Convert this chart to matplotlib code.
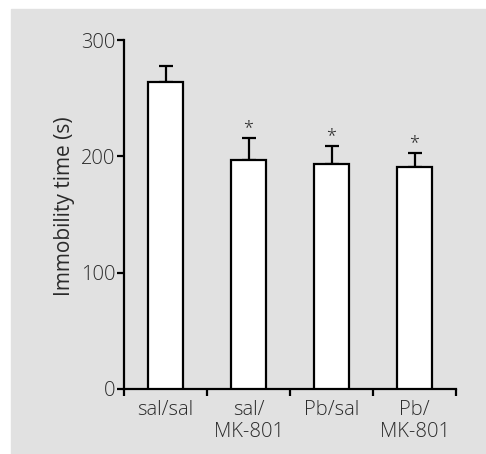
import numpy as np
import matplotlib
matplotlib.use("Agg")
from matplotlib import pyplot as plt
from matplotlib.patches import Rectangle

groups = ["sal/sal", "sal/\nMK-801", "Pb/sal", "Pb/\nMK-801"]
means = [264, 197, 193, 191]
sems = [14, 19, 16, 12]
signif = ["", "*", "*", "*"]

plt.rcParams['font.family'] = ['Open Sans', 'DejaVu Sans']
plt.rcParams['font.weight'] = 'light'
txt = '#2a2a2a'
fs = 14.5

fig = plt.figure(figsize=(4.86, 4.54), dpi=100)
fig.patch.set_facecolor('white')
# grey panel behind the plot
fig.patches.append(Rectangle((11/486, 0), 1 - 11/486, 1 - 9/454,
                             transform=fig.transFigure, color='#e1e1e1', zorder=-10))

ax = fig.add_axes([124/486, 1 - 389/454, (456 - 124)/486, (389 - 40)/454])
ax.set_facecolor('none')

x = np.arange(len(groups))
ax.bar(x, means, width=0.41, color='white', edgecolor='black', linewidth=1.6, zorder=3)
ax.errorbar(x, means, yerr=[np.zeros(len(sems)), sems], fmt='none', ecolor='black',
            elinewidth=1.6, capsize=5, capthick=1.6, zorder=2)
for xi, m, s, lab in zip(x, means, sems, signif):
    if lab:
        ax.text(xi, m + s + 1, lab, ha='center', va='bottom', fontsize=13, color=txt)

ax.set_xlim(-0.5, 3.5)
ax.set_ylim(0, 300)
ax.set_yticks([0, 100, 200, 300])
ax.tick_params(axis='y', length=5, width=1.6, labelsize=fs, labelcolor=txt, pad=1)
ax.set_xticks(x)
ax.set_xticklabels(groups, fontsize=fs, color=txt, linespacing=1.15)
ax.set_xticks(np.arange(-0.5, 4.0, 1.0), minor=True)
ax.tick_params(axis='x', which='major', length=0, pad=8)
ax.tick_params(axis='x', which='minor', length=5, width=1.6)
for sp in ['top', 'right']:
    ax.spines[sp].set_visible(False)
for sp in ['left', 'bottom']:
    ax.spines[sp].set_linewidth(1.6)
ax.set_ylabel("Immobility time (s)", fontsize=15, color=txt)
ax.yaxis.set_label_coords(-0.148, 0.524)

fig.savefig("out.png", dpi=100)
